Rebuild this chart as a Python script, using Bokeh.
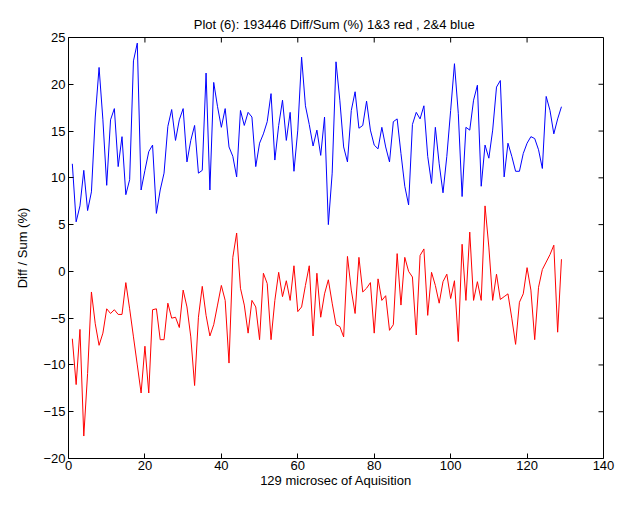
import math
from bokeh.plotting import figure
from bokeh.models import LinearAxis, FixedTicker, Range1d
from bokeh.embed import file_html
from bokeh.resources import INLINE

samples = list(range(1, 130))

blue_vals = [
    11.5, 5.3, 7.0, 10.8, 6.5, 8.5, 16.5, 21.8, 16.2, 9.2,
    16.2, 17.4, 11.2, 14.4, 8.2, 9.8, 22.5, 24.4, 8.7, 10.8,
    12.8, 13.5, 6.2, 8.7, 10.5, 15.5, 17.3, 14.0, 16.2, 17.4,
    11.7, 14.0, 15.6, 10.5, 10.8, 21.2, 8.7, 20.2, 17.6, 15.4,
    17.4, 13.3, 12.3, 10.1, 17.2, 15.6, 17.0, 16.5, 11.2, 13.7,
    14.7, 16.0, 19.0, 11.9, 15.6, 18.3, 14.0, 17.0, 10.7, 15.1,
    22.9, 17.7, 15.7, 13.4, 15.1, 12.4, 16.5, 5.0, 10.5, 22.4,
    18.3, 13.3, 11.7, 17.2, 19.2, 15.3, 15.6, 18.2, 15.1, 13.5,
    13.1, 15.4, 13.3, 11.7, 16.0, 16.3, 12.6, 9.1, 7.1, 15.7,
    17.0, 16.3, 17.7, 12.3, 9.4, 15.4, 11.5, 8.4, 12.3, 17.2,
    22.2, 16.9, 8.0, 15.4, 15.1, 18.3, 19.9, 9.1, 13.5, 12.1,
    15.1, 19.7, 20.4, 10.1, 13.7, 12.3, 10.7, 10.7, 12.6, 13.7,
    14.4, 14.2, 13.0, 11.0, 18.7, 17.2, 14.7, 16.3, 17.6,
]

red_vals = [
    -7.2, -12.1, -6.2, -17.6, -10.9, -2.2, -5.6, -7.9, -6.6, -4.0,
    -4.5, -4.1, -4.6, -4.6, -1.2, -4.0, -7.0, -10.0, -13.0, -8.0,
    -13.0, -4.1, -4.0, -7.3, -7.3, -3.4, -5.0, -4.9, -6.0, -2.0,
    -3.8, -7.0, -12.2, -4.9, -1.6, -4.7, -6.9, -5.7, -3.6, -1.5,
    -3.1, -9.8, 1.5, 4.1, -1.8, -3.6, -6.6, -3.1, -3.8, -7.3,
    -0.2, -1.3, -7.3, -3.1, -0.1, -2.7, -1.0, -3.1, 0.6, -4.3,
    -3.8, -1.5, 0.6, -6.9, -0.2, -4.9, -2.4, -0.9, -3.4, -5.7,
    -5.9, -7.0, 1.6, -2.0, -4.5, 1.5, -2.2, -1.8, -1.2, -6.6,
    -0.8, -3.1, -2.6, -6.3, -5.7, 1.9, -3.6, 1.5, 0.0, -0.6,
    -6.8, 1.7, 2.4, -4.7, -0.1, -1.5, -3.4, -1.1, -0.3, -2.9,
    -1.0, -7.5, 2.9, -3.1, 4.2, -3.1, -1.1, -3.1, 7.0, 2.6,
    -3.1, -0.3, -3.0, -2.7, -2.4, -5.0, -7.8, -3.3, -2.4, 0.4,
    -2.0, -7.3, -1.7, 0.2, 1.0, 1.8, 2.8, -6.5, 1.3,
]

x_ticks = [0, 20, 40, 60, 80, 100, 120, 140]
y_ticks = [-20, -15, -10, -5, 0, 5, 10, 15, 20, 25]

title_text = "Plot (6): 193446 Diff/Sum (%)  1&3 red , 2&4 blue"
x_label = "129 microsec of Aquisition"
y_label = "Diff / Sum (%)"

FONT = "Liberation Sans"
FS = "13px"

p = figure(width=615, height=490, output_backend="svg", toolbar_location=None,
           x_range=Range1d(x_ticks[0], x_ticks[-1]), y_range=Range1d(y_ticks[0], y_ticks[-1]),
           min_border_left=68, min_border_right=12, min_border_top=37, min_border_bottom=29,
           x_axis_location=None, y_axis_location=None)

p.title.text = title_text
p.title.align = "center"
p.title.vertical_align = "middle"
p.title.text_font = FONT
p.title.text_font_size = FS
p.title.text_font_style = "normal"
p.title.text_color = "black"
p.title.offset = 0

p.xgrid.visible = False
p.ygrid.visible = False
p.outline_line_color = "black"
p.outline_line_width = 1
p.background_fill_color = "white"
p.border_fill_color = "white"


def style_axis(ax):
    ax.major_tick_in = 5
    ax.major_tick_out = 0
    ax.minor_tick_line_color = None
    ax.axis_line_color = None
    ax.major_tick_line_color = "black"
    ax.major_label_text_font = FONT
    ax.major_label_text_color = "black"
    ax.major_label_text_font_size = FS
    ax.major_label_standoff = 2
    ax.axis_label_text_font = FONT
    ax.axis_label_text_font_size = FS
    ax.axis_label_text_font_style = "normal"
    ax.axis_label_text_color = "black"
    ax.axis_label_standoff = 0


xb = LinearAxis(ticker=FixedTicker(ticks=x_ticks), axis_label=x_label)
style_axis(xb)
p.add_layout(xb, "below")

yl = LinearAxis(ticker=FixedTicker(ticks=y_ticks), axis_label=y_label)
style_axis(yl)
yl.major_label_standoff = 3
yl.axis_label_standoff = 10
p.add_layout(yl, "left")

# inward tick marks on the top and right edges of the box
p.ray(x=x_ticks, y=[y_ticks[-1]] * len(x_ticks), length=5, length_units="screen",
      angle=-math.pi / 2, line_color="black", line_width=1)
p.ray(x=[x_ticks[-1]] * len(y_ticks), y=y_ticks, length=5, length_units="screen",
      angle=math.pi, line_color="black", line_width=1)

p.line(samples, blue_vals, line_color="blue", line_width=1)
p.line(samples, red_vals, line_color="red", line_width=1)

open("out.html", "w").write(file_html(p, INLINE))
